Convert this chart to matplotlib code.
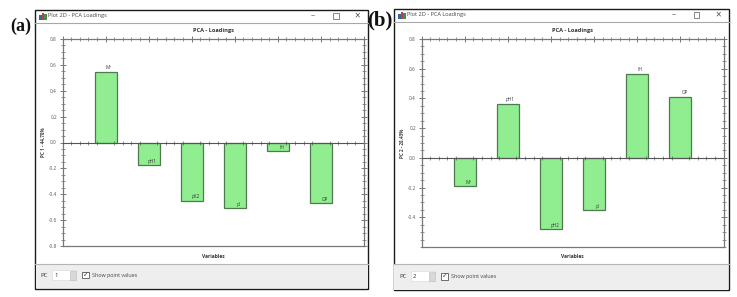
import matplotlib
matplotlib.use("Agg")
import matplotlib.pyplot as plt
from matplotlib.patches import Rectangle
from matplotlib.ticker import MultipleLocator, FixedLocator, NullFormatter

W, H = 737, 297

variables_a = ["Mr", "pH1", "pK2", "pI", "IH", "OP"]
loadings_a = [0.545, -0.175, -0.45, -0.505, -0.067, -0.466]
variables_b = ["Mr", "pH1", "pH2", "pI", "IH", "OP"]
loadings_b = [-0.188, 0.361, -0.478, -0.35, 0.564, 0.409]
yticks_a = [0.8, 0.6, 0.4, 0.2, 0.0, -0.2, -0.4, -0.6, -0.8]
yticks_b = [0.8, 0.6, 0.4, 0.2, 0.0, -0.2, -0.4]

plt.rcParams["font.family"] = ["Open Sans", "DejaVu Sans"]

fig = plt.figure(figsize=(W / 100, H / 100), dpi=100)


def px_rect(x0, y0, x1, y1, **kw):
    fig.add_artist(Rectangle((x0 / W, 1 - y1 / H), (x1 - x0) / W, (y1 - y0) / H,
                             transform=fig.transFigure, **kw))


def px_text(x, y, s, **kw):
    fig.text(x / W, 1 - y / H, s, va="center", **kw)


def window(box, foot_y, pc, letter, ylabel, names, vals, ylim, yticks, frame):
    x0, y0, x1, y1 = box
    px_rect(x0, y0, x1, y1, fc="white", ec="#1a1a1a", lw=1.0)
    px_rect(x0 + 0.5, foot_y, x1 - 0.5, y1 - 0.5, fc="#eeeeee", ec="none")
    fig.add_artist(plt.Line2D([x0 / W, x1 / W], [1 - foot_y / H] * 2, color="#b5b5b5", lw=0.8))
    fig.add_artist(plt.Line2D([x0 / W, x1 / W], [1 - (y0 + 13.5) / H] * 2, color="#a8a8a8", lw=0.8))

    # title bar
    for dx, h, c in [(0, 4, "#3a62a8"), (2.5, 6, "#b8433a"), (5, 5, "#4a8a4a")]:
        px_rect(x0 + 4 + dx, y0 + 10 - h, x0 + 6.5 + dx, y0 + 10, fc=c, ec="none")
    px_text(x0 + 13, y0 + 6, "Plot 2D - PCA Loadings", fontsize=4.1, color="#444444")
    px_text(x1 - 55, y0 + 6, "–", fontsize=6, color="#444444", ha="center")
    px_rect(x1 - 35, y0 + 3.5, x1 - 29.5, y0 + 9, fc="none", ec="#555555", lw=0.5)
    px_text(x1 - 11, y0 + 6, "×", fontsize=7, color="#444444", ha="center")

    # footer
    cy = (foot_y + y1) / 2 - 1
    px_text(x0 + 5.5, cy, "PC", fontsize=4.3, color="#333333")
    px_rect(x0 + 17, cy - 5, x0 + 41, cy + 5, fc="white", ec="#dddddd", lw=0.5)
    px_text(x0 + 19, cy, pc, fontsize=4.3, color="#333333")
    px_rect(x0 + 34.5, cy - 4.5, x0 + 41, cy + 4.5, fc="#d8d8d8", ec="#bbbbbb", lw=0.4)
    px_rect(x0 + 47, cy - 3.2, x0 + 53.5, cy + 3.2, fc="white", ec="#555555", lw=0.6)
    px_text(x0 + 47.5, cy, "✓", fontsize=5, color="#444444", family="DejaVu Sans")
    px_text(x0 + 56.5, cy, "Show point values", fontsize=3.9, color="#444444")

    px_text(letter[1], letter[2], letter[0], fontsize=letter[3], family="Liberation Serif", weight="bold", color="#111111")

    ax = fig.add_axes([frame[0] / W, 1 - frame[3] / H, (frame[2] - frame[0]) / W, (frame[3] - frame[1]) / H])
    ax.set_zorder(5)
    ax.patch.set_alpha(0)
    xs = list(range(1, len(vals) + 1))
    ax.bar(xs, vals, width=0.51, color="#90ee90", edgecolor="#4f7a4f", lw=0.9, zorder=2)
    ax.axhline(0, color="#555555", lw=0.8, zorder=3)
    ax.set_xlim(0, 7)
    ax.set_ylim(*ylim)
    ax.xaxis.set_major_locator(MultipleLocator(1))
    ax.xaxis.set_minor_locator(MultipleLocator(0.2))
    ax.xaxis.set_major_formatter(NullFormatter())
    ax.yaxis.set_major_locator(FixedLocator(yticks))
    ax.yaxis.set_minor_locator(MultipleLocator(0.05))
    ax.set_yticklabels(["%.1f" % t for t in yticks], fontsize=3.4, color="#555555")
    ax.tick_params(axis="both", which="major", direction="inout", length=5, width=0.5, color="#444444", pad=1.5,
                   top=True, right=True)
    ax.tick_params(axis="both", which="minor", direction="inout", length=2.4, width=0.4, color="#444444",
                   top=True, right=True)
    ax.tick_params(axis="x", which="both", bottom=False)
    for s in ax.spines.values():
        s.set_color("#777777")
        s.set_linewidth(0.9)

    # zero axis ticks
    for t in ax.get_xticks(minor=True):
        major = abs(t - round(t)) < 1e-6
        ax.plot([t], [0], marker="|", ms=5.5 if major else 3, mew=0.5 if major else 0.4, color="#444444", zorder=4)
    ax.set_xlim(0, 7)

    # point labels
    span = ylim[1] - ylim[0]
    for x, v, n in zip(xs, vals, names):
        if v >= 0:
            ax.text(x + 0.1 if n == "OP" else x + 0.06, v + 0.012 * span, n, fontsize=3.3, ha="center", va="bottom", color="#333333")
        else:
            ax.text(x + 0.09, v + 0.006 * span, n, fontsize=3.3, ha="center", va="bottom", color="#333333")

    ax.set_title("PCA - Loadings", fontsize=4.1, weight="bold", color="#333333", pad=5)
    ax.set_xlabel("Variables", fontsize=3.5, weight="bold", color="#333333")
    ax.xaxis.set_label_coords(0.5, -7.5 / (frame[3] - frame[1]))
    ax.set_ylabel(ylabel, fontsize=3.3, weight="bold", color="#444444", labelpad=2)


window((35, 9.5, 368, 288.7), 263.7, "1", ("(a)", 10, 26, 13), "PC 1 - 44,78%", variables_a, loadings_a,
       (-0.8, 0.8), yticks_a, (62.5, 39, 364, 246))
window((394, 8.5, 728.7, 290.3), 264.3, "2", ("(b)", 367, 20, 15), "PC 2 - 28,43%", variables_b, loadings_b,
       (-0.6, 0.8), yticks_b, (421.5, 39, 723.5, 247))

fig.savefig("out.png", dpi=100)
